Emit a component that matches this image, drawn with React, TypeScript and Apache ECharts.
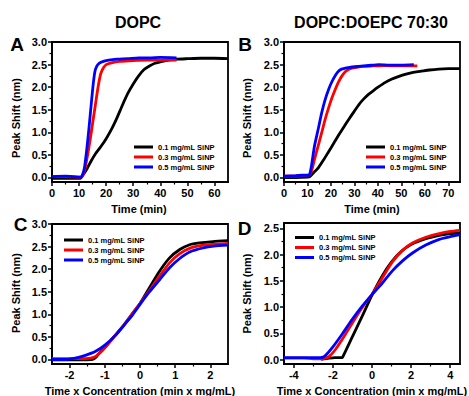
import React, { useEffect, useRef } from "react";
import * as echarts from "echarts";

const FONT = '"Liberation Sans", Arial, sans-serif';

const seriesNames = ["0.1 mg/mL SiNP", "0.3 mg/mL SiNP", "0.5 mg/mL SiNP"];
const seriesColors = ["#000000", "#ff0000", "#0000ff"];
const panelTitles = ["DOPC", "DOPC:DOEPC 70:30"];
const panelLetters = ["A", "B", "C", "D"];
const xNameTop = "Time (min)";
const xNameBottom = "Time x Concentration (min x mg/mL)";
const yName = "Peak Shift (nm)";

// Panel A: DOPC, time (min) vs peak shift (nm)
const aBlack = [[0,-0.02],[5,-0.02],[10.5,-0.02],[11.5,0.06],[13,0.2],[14.5,0.37],[16,0.52],[18,0.68],[20,0.86],[22,1.07],[24,1.32],[26,1.6],[28,1.86],[30,2.07],[32,2.25],[34,2.39],[36,2.47],[38,2.53],[40,2.56],[43,2.6],[46,2.62],[50,2.63],[55,2.64],[60,2.64],[65,2.63]];
const aRed = [[0,0.02],[5,0.02],[10.5,0.01],[11.3,0.04],[12,0.15],[13,0.45],[14,0.8],[15,1.2],[16,1.6],[17,2.0],[18,2.3],[19,2.43],[20,2.5],[22,2.54],[25,2.57],[30,2.59],[35,2.6],[40,2.6],[46,2.6]];
const aBlue = [[0,0.02],[5,0.03],[10.5,0.01],[11.2,0.05],[12,0.22],[12.8,0.6],[13.5,1.0],[14.3,1.5],[15.1,2.0],[15.8,2.33],[16.5,2.46],[17.5,2.53],[19,2.57],[21,2.6],[24,2.62],[28,2.63],[32,2.65],[36,2.65],[40,2.66],[46,2.65]];

// Panel B: DOPC:DOEPC 70:30
const bBlack = [[0,0.0],[5,0.0],[10,0.01],[11,0.02],[12.5,0.1],[14.7,0.22],[17,0.4],[19,0.57],[21,0.74],[23.3,0.94],[25.5,1.12],[27.5,1.28],[30,1.47],[32,1.62],[34,1.74],[36,1.84],[38,1.92],[40.4,2.01],[43,2.1],[46,2.18],[49,2.24],[52,2.29],[55,2.33],[58,2.35],[62,2.38],[66,2.4],[70,2.41],[75,2.41]];
const bRed = [[0,0.03],[5,0.03],[8,0.04],[10.5,0.05],[11,0.06],[11.8,0.15],[13,0.4],[14.7,0.73],[16,0.98],[17.5,1.28],[19,1.54],[20.4,1.76],[22,1.97],[23.3,2.12],[24.7,2.25],[26.1,2.34],[27.5,2.39],[29,2.42],[31,2.44],[34,2.46],[38,2.47],[42,2.48],[46,2.47],[50,2.47],[54,2.47],[56.8,2.47]];
const bBlue = [[0,0.03],[5,0.04],[8,0.05],[10.5,0.05],[11,0.08],[11.8,0.29],[13,0.7],[14.7,1.1],[16,1.42],[17.5,1.72],[19,1.95],[20.4,2.12],[22,2.27],[23.3,2.36],[24.5,2.4],[26.1,2.42],[28,2.44],[31.8,2.46],[36,2.48],[40.4,2.5],[45,2.49],[50,2.49],[55.3,2.5]];

// Panel C: DOPC, time x concentration
const cBlack = [[-2.5,-0.01],[-2,-0.01],[-1.6,-0.01],[-1.35,0.0],[-1.25,0.05],[-1.17,0.13],[-0.98,0.28],[-0.79,0.46],[-0.5,0.72],[-0.21,1.02],[0,1.24],[0.26,1.58],[0.55,1.95],[0.84,2.25],[1.12,2.43],[1.41,2.54],[1.69,2.58],[2.07,2.61],[2.5,2.63]];
const cRed = [[-2.5,0.02],[-2,0.02],[-1.55,0.02],[-1.4,0.03],[-1.26,0.07],[-1.07,0.2],[-0.79,0.45],[-0.5,0.72],[-0.21,1.02],[0,1.24],[0.26,1.52],[0.55,1.84],[0.84,2.14],[1.12,2.34],[1.41,2.46],[1.79,2.53],[2.1,2.55],[2.5,2.57]];
const cBlue = [[-2.5,0.0],[-2.12,0.0],[-1.84,0.03],[-1.55,0.09],[-1.26,0.18],[-0.98,0.33],[-0.69,0.54],[-0.41,0.8],[-0.2,1.0],[0,1.22],[0.26,1.49],[0.55,1.76],[0.84,2.03],[1.12,2.23],[1.41,2.38],[1.79,2.47],[2.1,2.51],[2.5,2.53]];

// Panel D: DOPC:DOEPC 70:30, time x concentration
const dBlack = [[-2.6,0.01],[-2.2,0.03],[-1.9,0.04],[-1.55,0.04],[-1.5,0.05],[-1.0,0.44],[-0.5,0.83],[0,1.23],[0.5,1.58],[1.0,1.86],[1.5,2.06],[2.0,2.19],[2.75,2.3],[3.5,2.37],[4.0,2.4],[4.5,2.41]];
const dRed = [[-4.5,0.03],[-3.5,0.03],[-3,0.02],[-2.6,0.02],[-2.4,0.03],[-2.2,0.06],[-1.86,0.2],[-1.35,0.49],[-0.84,0.8],[-0.32,1.09],[0,1.24],[0.53,1.56],[1.04,1.86],[1.56,2.08],[2.07,2.22],[2.75,2.33],[3.44,2.4],[4,2.44],[4.5,2.46]];
const dBlue = [[-4.5,0.04],[-3.5,0.04],[-3,0.04],[-2.65,0.04],[-2.5,0.05],[-2.38,0.08],[-2.03,0.23],[-1.52,0.49],[-1.01,0.77],[-0.5,1.02],[0,1.24],[0.53,1.46],[1.04,1.69],[1.56,1.88],[2.07,2.03],[2.75,2.18],[3.44,2.29],[4,2.34],[4.5,2.38]];

const panelData = [
  [aBlack, aRed, aBlue],
  [bBlack, bRed, bBlue],
  [cBlack, cRed, cBlue],
  [dBlack, dRed, dBlue],
];

// axis ranges and ticks
const xRanges = [[0, 65], [0, 75], [-2.5, 2.5], [-4.5, 4.5]];
const yRanges = [[-0.1, 3.0], [-0.1, 3.0], [-0.1, 3.0], [-0.08, 2.6]];
const xTicks = [
  [0, 10, 20, 30, 40, 50, 60],
  [0, 10, 20, 30, 40, 50, 60, 70],
  [-2, -1, 0, 1, 2],
  [-4, -2, 0, 2, 4],
];
const xMinor = [
  [5, 15, 25, 35, 45, 55],
  [5, 15, 25, 35, 45, 55, 65],
  [-1.5, -0.5, 0.5, 1.5],
  [-3, -1, 1, 3],
];
const yTicksFull = [0, 0.5, 1.0, 1.5, 2.0, 2.5, 3.0];
const yMinorFull = [0.25, 0.75, 1.25, 1.75, 2.25, 2.75];
const yTicksD = [0, 0.5, 1.0, 1.5, 2.0, 2.5];
const yMinorD = [0.25, 0.75, 1.25, 1.75, 2.25];
const yTicks = [yTicksFull, yTicksFull, yTicksFull, yTicksD];
const yMinor = [yMinorFull, yMinorFull, yMinorFull, yMinorD];

// layout (px)
const grids = [
  { left: 52, top: 42, width: 176, height: 140 },
  { left: 284, top: 42, width: 176, height: 140 },
  { left: 52, top: 224, width: 176, height: 140 },
  { left: 284, top: 223, width: 176, height: 141 },
];
const legendPos = [
  { left: 134, top: 142 },
  { left: 366, top: 142 },
  { left: 64, top: 235 },
  { left: 295, top: 232.5 },
];

const labelStyle = {
  color: "#000",
  fontSize: 11,
  fontWeight: "bold" as const,
  fontFamily: FONT,
};

function textEl(text: string, x: number, y: number, size: number, rotation = 0) {
  return {
    type: "text",
    x,
    y,
    rotation,
    silent: true,
    style: {
      text,
      fill: "#000",
      fontSize: size,
      fontWeight: "bold",
      fontFamily: FONT,
      align: "center",
      verticalAlign: "middle",
      textAlign: "center",
      textVerticalAlign: "middle",
    },
  };
}

export default function App() {
  const ref = useRef<HTMLDivElement>(null);
  useEffect(() => {
    if (!ref.current) return;
    document.body.style.margin = "0";
    const chart = echarts.init(ref.current, undefined, { renderer: "svg" });

    const xAxes: any[] = [];
    const yAxes: any[] = [];
    for (let p = 0; p < 4; p++) {
      xAxes.push({
        type: "value",
        gridIndex: p,
        position: "bottom",
        min: xRanges[p][0],
        max: xRanges[p][1],
        axisLine: { show: true, onZero: false, lineStyle: { color: "#000", width: 1.8 } },
        axisTick: { show: true, inside: false, length: 4, customValues: xTicks[p], lineStyle: { color: "#000", width: 1.5 } },
        axisLabel: { show: true, margin: 5, customValues: xTicks[p], formatter: (v: number) => String(v), ...labelStyle },
        splitLine: { show: false },
      });
      yAxes.push({
        type: "value",
        gridIndex: p,
        position: "left",
        min: yRanges[p][0],
        max: yRanges[p][1],
        axisLine: { show: true, onZero: false, lineStyle: { color: "#000", width: 1.8 } },
        axisTick: { show: true, inside: false, length: 4, customValues: yTicks[p], lineStyle: { color: "#000", width: 1.5 } },
        axisLabel: { show: true, margin: 5, customValues: yTicks[p], formatter: (v: number) => v.toFixed(1), ...labelStyle },
        splitLine: { show: false },
      });
    }
    for (let p = 0; p < 4; p++) {
      xAxes.push({
        type: "value",
        gridIndex: p,
        position: "bottom",
        min: xRanges[p][0],
        max: xRanges[p][1],
        axisLine: { show: false, onZero: false },
        axisTick: { show: true, inside: false, length: 2.5, customValues: xMinor[p], lineStyle: { color: "#000", width: 1.2 } },
        axisLabel: { show: false },
        splitLine: { show: false },
      });
      yAxes.push({
        type: "value",
        gridIndex: p,
        position: "left",
        min: yRanges[p][0],
        max: yRanges[p][1],
        axisLine: { show: false, onZero: false },
        axisTick: { show: true, inside: false, length: 2.5, customValues: yMinor[p], lineStyle: { color: "#000", width: 1.2 } },
        axisLabel: { show: false },
        splitLine: { show: false },
      });
    }

    const series: any[] = [];
    for (let p = 0; p < 4; p++) {
      for (let s = 0; s < 3; s++) {
        series.push({
          type: "line",
          name: seriesNames[s],
          xAxisIndex: p,
          yAxisIndex: p,
          data: panelData[p][s],
          showSymbol: false,
          symbol: "none",
          smooth: 0.2,
          clip: true,
          color: seriesColors[s],
          lineStyle: { color: seriesColors[s], width: 2.8 },
          z: 2 + s,
        });
      }
    }

    const legends = legendPos.map((pos) => ({
      orient: "vertical",
      left: pos.left,
      top: pos.top,
      padding: 0,
      itemGap: 0,
      itemWidth: 19,
      itemHeight: 3,
      icon: "rect",
      selectedMode: false,
      data: seriesNames,
      textStyle: { color: "#000", fontSize: 7.5, fontWeight: "bold", fontFamily: FONT, lineHeight: 10 },
    }));

    const graphics = [
      textEl(panelTitles[0], 138, 22, 16),
      textEl(panelTitles[1], 371, 22, 16),
      textEl(panelLetters[0], 17, 44, 19),
      textEl(panelLetters[1], 245, 44, 19),
      textEl(panelLetters[2], 20.5, 224.5, 19),
      textEl(panelLetters[3], 244.5, 228, 19),
      textEl(yName, 15.7, 118, 11, Math.PI / 2),
      textEl(yName, 247.3, 118, 11, Math.PI / 2),
      textEl(yName, 15.7, 293, 11, Math.PI / 2),
      textEl(yName, 247.3, 293.5, 11, Math.PI / 2),
      textEl(xNameTop, 139, 209, 11),
      textEl(xNameTop, 372, 209, 11),
      textEl(xNameBottom, 140, 391, 11),
      textEl(xNameBottom, 372, 391, 11),
    ];

    chart.setOption({
      animation: false,
      backgroundColor: "#ffffff",
      grid: grids.map((g) => ({
        ...g,
        show: true,
        borderColor: "#000",
        borderWidth: 1.8,
        backgroundColor: "transparent",
        containLabel: false,
      })),
      xAxis: xAxes,
      yAxis: yAxes,
      legend: legends,
      series,
      graphic: { elements: graphics },
    });
    return () => chart.dispose();
  }, []);
  return (
    <div
      ref={ref}
      style={{ position: "absolute", left: 0, top: 0, width: 469, height: 396 }}
    />
  );
}
